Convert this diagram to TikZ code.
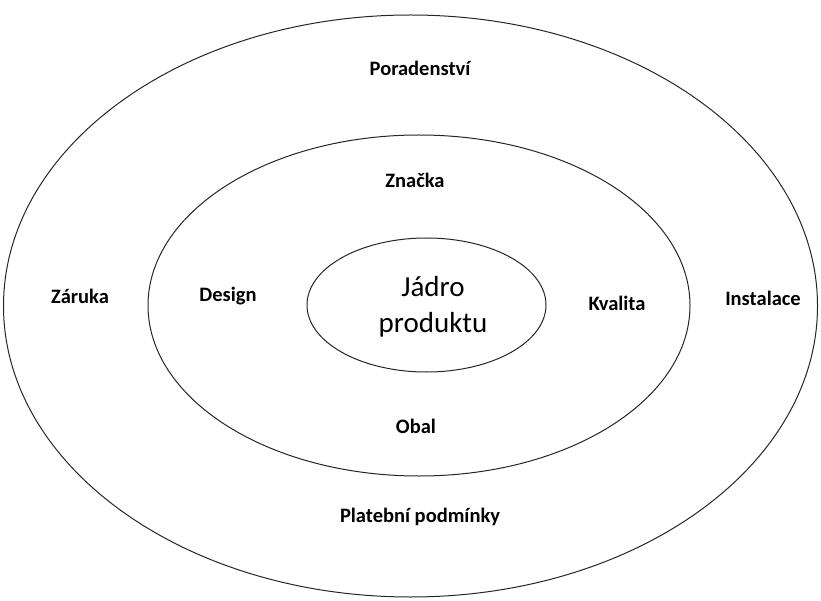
\documentclass[tikz,border=0pt]{standalone}
\usepackage{fontspec}
\setmainfont{Carlito}
\usetikzlibrary{shapes.geometric}
\begin{document}
\begin{tikzpicture}[x=1pt,y=-1pt]
\tikzset{ring/.style={draw=black!85,line width=1pt,ellipse,inner sep=0pt}}
\tikzset{layer/.style={font=\fontsize{20.5}{24}\selectfont\bfseries}}
\tikzset{core/.style={font=\fontsize{29}{36}\selectfont,align=center}}
\useasboundingbox (0,0) rectangle (821,601);
% rings
\node[ring,minimum width=814pt,minimum height=582pt] (outer) at (410.5,306) {};
\node[ring,minimum width=542pt,minimum height=341pt] (middle) at (419,305.5) {};
\node[ring,minimum width=239pt,minimum height=134pt] (inner) at (426.5,305) {};
% labels
\node[core] (jadro) at (433,307) {Jádro\\produktu};
\node[layer] (znacka) at (415,180) {Značka};
\node[layer] (design) at (228,296) {Design};
\node[layer] (kvalita) at (617,303) {Kvalita};
\node[layer] (obal) at (416,426) {Obal};
\node[layer] (poradenstvi) at (420,68) {Poradenství};
\node[layer] (zaruka) at (80,296) {Záruka};
\node[layer] (instalace) at (763,298) {Instalace};
\node[layer] (platebni) at (420,517) {Platební podmínky};
\end{tikzpicture}
\end{document}
